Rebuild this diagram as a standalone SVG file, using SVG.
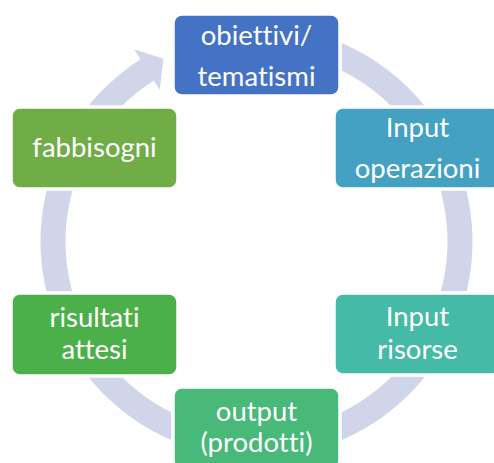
<svg xmlns="http://www.w3.org/2000/svg" width="494" height="463" viewBox="0 0 494 463">
<style>
.box{stroke:#FFFFFF;stroke-width:3.5}
.lbl{font-family:Lato,"Liberation Sans",sans-serif;font-size:27.5px;fill:#FFFFFF;text-anchor:middle;font-variant-ligatures:none;font-feature-settings:"liga" 0,"clig" 0}
</style>
<rect x="0" y="0" width="494" height="463" fill="#FFFFFF"/>
<g id="connectors">
<path d="M 256.5 25.5 A 216 216 0 1 1 140.44 59.33 L 134.0 49.2 L 163.4 58.8 L 159.8 89.7 L 153.9 80.4 A 191 191 0 1 0 256.5 50.5 Z" fill="#D0D5EA"/>
</g>
<g id="n-obiettivi">
<rect class="box" x="173" y="14" width="167" height="82" rx="9" fill="#4472C4"/>
<text class="lbl" x="256.5" y="44.5">obiettivi/</text>
<text class="lbl" x="256.5" y="86">tematismi</text>
</g>
<g id="n-input-operazioni">
<rect class="box" x="334" y="107" width="167" height="82" rx="9" fill="#44A1C1"/>
<text class="lbl" x="417.5" y="136.5">Input</text>
<text class="lbl" x="417.5" y="178">operazioni</text>
</g>
<g id="n-input-risorse">
<rect class="box" x="334" y="293" width="167" height="82" rx="9" fill="#45BAA6"/>
<text class="lbl" x="417.5" y="325.5">Input</text>
<text class="lbl" x="417.5" y="359">risorse</text>
</g>
<g id="n-output">
<rect class="box" x="173" y="387" width="167" height="82" rx="9" fill="#48B978"/>
<text class="lbl" x="256.5" y="420.5">output</text>
<text class="lbl" x="256.5" y="451.5">(prodotti)</text>
</g>
<g id="n-risultati">
<rect class="box" x="11" y="293" width="167" height="83" rx="9" fill="#4BB04A"/>
<text class="lbl" x="94.5" y="326.5">risultati</text>
<text class="lbl" x="94.5" y="358.5">attesi</text>
</g>
<g id="n-fabbisogni">
<rect class="box" x="11" y="107" width="167" height="82" rx="9" fill="#70AD47"/>
<text class="lbl" x="94.5" y="156.5">fabbisogni</text>
</g>
</svg>
